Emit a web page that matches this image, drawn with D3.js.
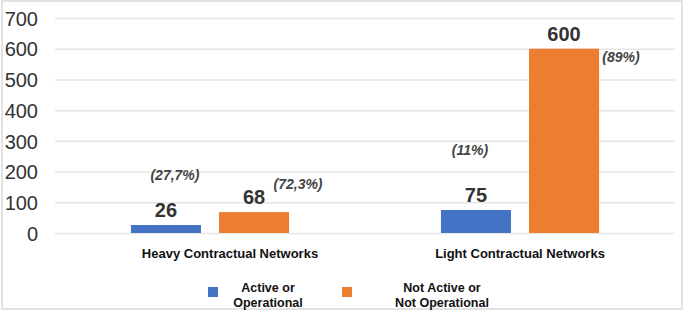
<!DOCTYPE html>
<html>
<head>
<meta charset="utf-8">
<script src="https://cdn.jsdelivr.net/npm/d3@7"></script>
<style>
  body { margin: 0; background: #fff; }
  text { font-family: "Liberation Sans", Arial, sans-serif; }
</style>
</head>
<body>
<script>
var w = 685,
    h = 314;

// Data
var categories = ['Heavy Contractual Networks', 'Light Contractual Networks'];
var seriesNames = ['Active or Operational', 'Not Active or Not Operational'];
var active = [26, 75];
var notActive = [68, 600];
var activePct = ['(27,7%)', '(11%)'];
var notActivePct = ['(72,3%)', '(89%)'];
var yTicks = [0, 100, 200, 300, 400, 500, 600, 700];
var legendLines = [['Active or', 'Operational'], ['Not Active or', 'Not Operational']];

var colors = ['#4472c4', '#ed7d31'];

var svg = d3.select('body')
            .append('svg')
            .attr('width', w)
            .attr('height', h);

// frame
svg.append('rect')
   .attr('x', 2)
   .attr('y', 1)
   .attr('width', 680)
   .attr('height', 308)
   .attr('fill', 'none')
   .attr('stroke', '#e3e3e3')
   .attr('stroke-width', 2);

var plotLeft = 55, plotRight = 675, plotTop = 18, plotBottom = 233;

var y = d3.scaleLinear()
          .domain([0, 700])
          .range([plotBottom, plotTop]);

var x0 = d3.scaleBand()
           .domain(categories)
           .range([plotLeft, plotRight])
           .paddingInner(0.49)
           .paddingOuter(0.245);

var x1 = d3.scaleBand()
           .domain(seriesNames)
           .range([0, x0.bandwidth()])
           .paddingInner(0.205)
           .paddingOuter(0);

// gridlines + y labels
var yAxis = d3.axisLeft(y)
              .tickValues(yTicks)
              .tickSize(-(plotRight - plotLeft))
              .tickPadding(17);

var gy = svg.append('g')
            .attr('transform', 'translate(' + plotLeft + ',0)')
            .call(yAxis);

gy.select('.domain').remove();
gy.selectAll('.tick line')
  .attr('stroke', '#e6e6e6')
  .attr('stroke-width', 1.5);
gy.selectAll('.tick text')
  .attr('fill', '#333')
  .style('font-size', '20px')
  .attr('dy', '0.36em');

// rows of data
var rows = categories.map(function(c, i) {
  return [
    {cat: c, s: seriesNames[0], v: active[i], pct: activePct[i], k: 0},
    {cat: c, s: seriesNames[1], v: notActive[i], pct: notActivePct[i], k: 1}
  ];
});

// percent label offsets from bar top centre [dx, dy]
var pctOffsets = [
  [[9, -45], [44, -23]],
  [[-6, -55], [57, 13]]
];

var groups = svg.selectAll('g.cat')
                .data(rows)
                .enter()
                .append('g')
                .attr('class', 'cat')
                .attr('transform', function(d) {
                  return 'translate(' + x0(d[0].cat) + ',0)';
                });

groups.selectAll('rect')
      .data(function(d) { return d; })
      .enter()
      .append('rect')
      .attr('x', function(d) { return x1(d.s); })
      .attr('y', function(d) { return y(d.v); })
      .attr('width', x1.bandwidth())
      .attr('height', function(d) { return y(0) - y(d.v); })
      .attr('fill', function(d) { return colors[d.k]; });

// value labels
groups.selectAll('text.val')
      .data(function(d) { return d; })
      .enter()
      .append('text')
      .attr('class', 'val')
      .attr('x', function(d) { return x1(d.s) + x1.bandwidth() / 2; })
      .attr('y', function(d) { return y(d.v) - 8; })
      .attr('text-anchor', 'middle')
      .attr('fill', '#333')
      .style('font-size', '20px')
      .style('font-weight', 'bold')
      .text(function(d) { return d.v; });

// percent labels
groups.selectAll('text.pct')
      .data(function(d, i) {
        return d.map(function(e) { return {e: e, off: pctOffsets[i][e.k]}; });
      })
      .enter()
      .append('text')
      .attr('class', 'pct')
      .attr('x', function(d) { return x1(d.e.s) + x1.bandwidth() / 2 + d.off[0]; })
      .attr('y', function(d) { return y(d.e.v) + d.off[1]; })
      .attr('text-anchor', 'middle')
      .attr('fill', '#444')
      .style('font-size', '14px')
      .style('font-style', 'italic')
      .style('font-weight', 'bold')
      .text(function(d) { return d.e.pct; });

// category labels (first one sits a bit right of centre in the original)
var catLabelShift = [20, 0];
svg.selectAll('text.catlabel')
   .data(categories)
   .enter()
   .append('text')
   .attr('class', 'catlabel')
   .attr('x', function(d, i) { return x0(d) + x0.bandwidth() / 2 + catLabelShift[i]; })
   .attr('y', 258)
   .attr('text-anchor', 'middle')
   .attr('fill', '#111')
   .style('font-size', '13px')
   .style('font-weight', 'bold')
   .text(function(d) { return d; });

// legend
var legendX = [208, 342];
var legend = svg.selectAll('g.legend')
                .data(seriesNames)
                .enter()
                .append('g')
                .attr('class', 'legend')
                .attr('transform', function(d, i) {
                  return 'translate(' + legendX[i] + ',287)';
                });

legend.append('rect')
      .attr('width', 10)
      .attr('height', 10)
      .attr('fill', function(d, i) { return colors[i]; });

legend.each(function(d, i) {
  var t = d3.select(this)
            .append('text')
            .attr('text-anchor', 'middle')
            .attr('fill', '#111')
            .style('font-size', '12.5px')
            .style('font-weight', 'bold');
  legendLines[i].forEach(function(line, j) {
    t.append('tspan')
     .attr('x', i === 0 ? 60 : 100)
     .attr('y', 5 + j * 15)
     .text(line);
  });
});
</script>
</body>
</html>
